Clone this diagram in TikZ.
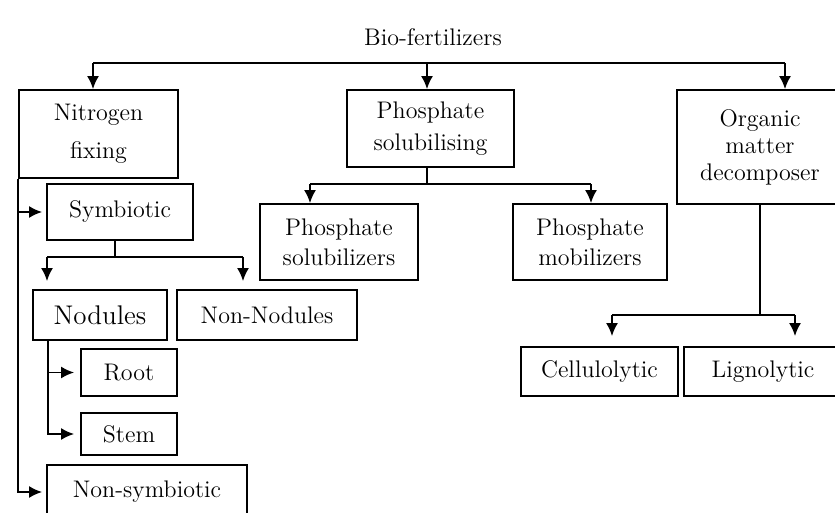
\documentclass[tikz,border=0pt]{standalone}
\usepackage{tikz}
\usetikzlibrary{arrows.meta, positioning}
\tikzstyle{block}=[draw, fill=white, rectangle, line width=0.9pt, inner sep=0pt, align=center]
\tikzstyle{every node}=[font=\fontsize{12}{15}\selectfont]

\begin{document}
\begin{tikzpicture}[>={Latex[length=6.5pt,width=6pt]}, x=0.5pt, y=-0.5pt, line width=0.9pt]
  \useasboundingbox (0,0) rectangle (835,513);
  \node (title) at (433,37) {Bio-fertilizers};
  % first level
  \node[block, minimum width=79.5pt, minimum height=44pt, font=\fontsize{12}{19}\selectfont] (nitro) at (98.5,134) {Nitrogen\\fixing};
  \node[block, minimum width=83.5pt, minimum height=38.5pt, font=\fontsize{12}{16}\selectfont] (phos) at (430.5,128.5) {Phosphate\\solubilising};
  \node[block, minimum width=83pt, minimum height=57pt, font=\fontsize{12}{13.5}\selectfont] (organic) at (760,147) {Organic\\matter\\decomposer};
  % nitrogen fixing
  \node[block, minimum width=73pt, minimum height=28pt] (sym) at (120,212) {Symbiotic};
  \node[block, minimum width=67pt, minimum height=25pt, font=\fontsize{13.5}{16}\selectfont] (nod) at (100,315) {Nodules};
  \node[block, minimum width=90pt, minimum height=25pt] (nonnod) at (267,315) {Non-Nodules};
  \node[block, minimum width=48pt, minimum height=23.5pt] (root) at (129,372.5) {Root};
  \node[block, minimum width=48pt, minimum height=21pt] (stem) at (129,434) {Stem};
  \node[block, minimum width=100pt, minimum height=27pt] (nonsym) at (147,492) {Non-symbiotic};
  % phosphate
  \node[block, minimum width=79pt, minimum height=38pt] (psolz) at (339,242) {Phosphate\\solubilizers};
  \node[block, minimum width=77pt, minimum height=38pt] (pmob) at (590,242) {Phosphate\\mobilizers};
  % organic matter
  \node[block, minimum width=78.5pt, minimum height=24.5pt] (cell) at (599.5,371.5) {Cellulolytic};
  \node[block, minimum width=79pt, minimum height=24.5pt] (lign) at (763,371.5) {Lignolytic};

  % top bus
  \coordinate (busL) at (93,63);
  \coordinate (bus) at (427,63);
  \coordinate (busR) at (785,63);
  \draw (busL) -- (busR);
  \draw[->] (busL) -- (busL |- nitro.north);
  \draw[->] (bus) -- (bus |- phos.north);
  \draw[->] (busR) -- (busR |- organic.north);

  % left rail
  \draw[->, shorten >=2pt] (nitro.south west) |- (nonsym.west);
  \draw[->, shorten >=2pt] (nitro.south west |- sym.west) -- (sym.west);

  % symbiotic
  \coordinate (symL) at (47,257);
  \coordinate (symR) at (243,257);
  \draw (sym.south -| 115,0) -- (symL -| 115,0);
  \draw (symL) -- (symR);
  \draw[->, shorten >=4pt] (symL) -- (symL |- nod.north);
  \draw[->, shorten >=4pt] (symR) -- (symR |- nonnod.north);

  % nodules
  \coordinate (nodS) at (48,340);
  \draw[->, shorten >=3pt] (nodS) |- (root.west);
  \draw[->, shorten >=3pt] (nodS) |- (stem.west);

  % phosphate solubilising
  \coordinate (phosL) at (310,184);
  \coordinate (phosR) at (591,184);
  \draw (bus |- phos.south) -- (bus |- phosL);
  \draw (phosL) -- (phosR);
  \draw[->] (phosL) -- (phosL |- psolz.north);
  \draw[->] (phosR) -- (phosR |- pmob.north);

  % organic matter decomposer
  \coordinate (orgL) at (612,315);
  \coordinate (orgR) at (795,315);
  \draw (organic.south) -- (organic.south |- orgL);
  \draw (orgL) -- (orgR);
  \draw[->, shorten >=5pt] (orgL) -- (orgL |- cell.north);
  \draw[->, shorten >=5pt] (orgR) -- (orgR |- lign.north);
\end{tikzpicture}
\end{document}
